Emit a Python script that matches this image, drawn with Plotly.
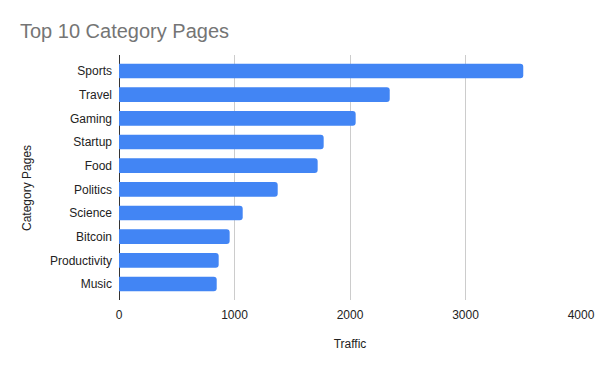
import plotly.graph_objects as go

categories = ["Sports", "Travel", "Gaming", "Startup", "Food", "Politics",
              "Science", "Bitcoin", "Productivity", "Music"]
traffic = [3500, 2344, 2049, 1772, 1720, 1374, 1071, 958, 863, 846]

# plot bottom-to-top
cats_bt = categories[::-1]
vals_bt = traffic[::-1]

fig = go.Figure(go.Bar(
    x=vals_bt, y=cats_bt, orientation="h",
    marker=dict(color="#4285F4", cornerradius=3, line=dict(width=0)),
    width=0.62,
))

font_family = "Arial, 'Liberation Sans', sans-serif"
L, R, T, B = 119, 19, 55, 71
W, H = 600, 371
pw, ph = W - L - R, H - T - B

fig.update_layout(
    width=W, height=H,
    margin=dict(l=L, r=R, t=T, b=B, autoexpand=False),
    paper_bgcolor="white", plot_bgcolor="white",
    font=dict(family=font_family, size=12, color="#222222"),
    title=dict(text="Top 10 Category Pages", x=20/W, xanchor="left",
               y=1-31/H, yanchor="middle",
               font=dict(size=20, color="#757575", family=font_family)),
    showlegend=False,
    xaxis=dict(range=[0, 4000], tickvals=[0, 1000, 2000, 3000, 4000],
               showgrid=True, gridcolor="#cccccc", gridwidth=1,
               zeroline=True, zerolinecolor="#333333", zerolinewidth=1,
               showline=False, ticks="", ticklabelstandoff=6,
               automargin=False,
               title=dict(text="Traffic", standoff=18,
                          font=dict(size=12, color="#222222"))),
    yaxis=dict(type="category", categoryorder="array", categoryarray=cats_bt,
               range=[-0.675, 9.675], showgrid=False, ticks="",
               ticklabelstandoff=6, automargin=False),
    annotations=[dict(text="Category Pages", textangle=-90,
                      xref="paper", yref="paper",
                      x=(27 - L) / pw, y=(H - B - 188) / ph,
                      xanchor="center", yanchor="middle", showarrow=False,
                      font=dict(size=12, color="#222222"))],
)

fig.write_html("out.html", post_script="document.body.style.margin='0';",
               config={"displayModeBar": False})
